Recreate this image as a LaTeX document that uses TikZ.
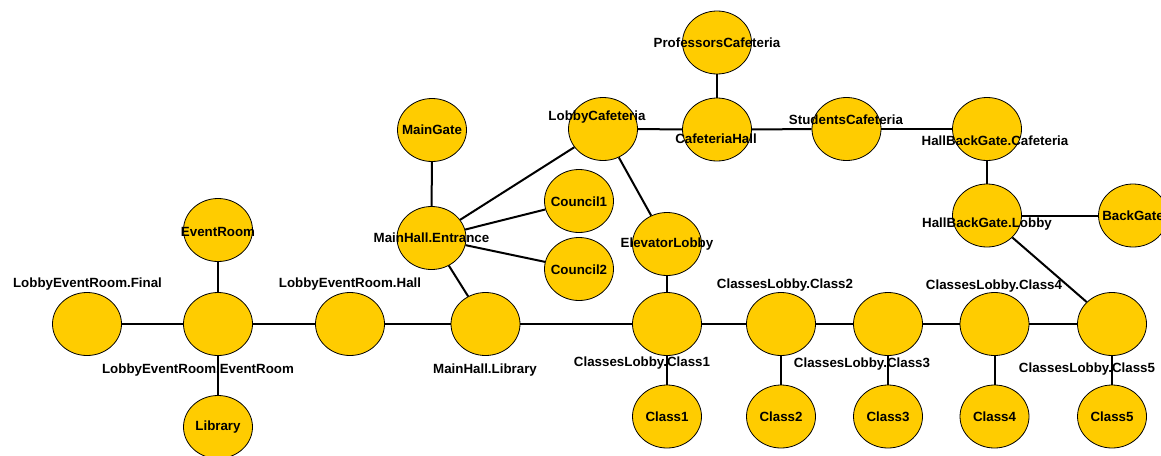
\documentclass[tikz,border=0pt]{standalone}
\usepackage{fontspec}
\setmainfont{Liberation Sans}
\usetikzlibrary{shapes.geometric}
\definecolor{gold}{HTML}{FFCC00}
\begin{document}
\begin{tikzpicture}[x=1pt,y=-1pt,
  st/.style={ellipse,draw=black,line width=0.8pt,fill=gold,minimum width=69pt,minimum height=63pt,inner sep=0pt},
  lbl/.style={font=\fontsize{13.33}{16}\selectfont\bfseries,inner sep=0pt,text=black},
  edge/.style={draw=black,line width=2pt}]
\useasboundingbox (0,0) rectangle (1161,455);
% states
\node[st] (final) at (87,324) {};
\node[st] (lerER) at (218,324) {};
\node[st] (eventroom) at (218,230) {};
\node[st] (library) at (218,427) {};
\node[st] (lerHall) at (350,324) {};
\node[st] (mhLib) at (485.5,324) {};
\node[st] (mhEnt) at (431.5,238) {};
\node[st] (mainGate) at (432,130) {};
\node[st] (lobbyCaf) at (603,129) {};
\node[st] (council1) at (579,201) {};
\node[st] (council2) at (579,269) {};
\node[st] (elevator) at (667,244) {};
\node[st] (profCaf) at (717,42.5) {};
\node[st] (cafHall) at (717,129.5) {};
\node[st] (studCaf) at (846.5,129) {};
\node[st] (hbgCaf) at (987,129) {};
\node[st] (hbgLobby) at (987,215.5) {};
\node[st] (backGate) at (1133,215.5) {};
\node[st] (cl1) at (667,324) {};
\node[st] (cl2) at (781,324) {};
\node[st] (cl3) at (888,324) {};
\node[st] (cl4) at (994.5,324) {};
\node[st] (cl5) at (1112,324) {};
\node[st] (c1) at (667,416.5) {};
\node[st] (c2) at (781,416.5) {};
\node[st] (c3) at (888,416.5) {};
\node[st] (c4) at (994.5,416.5) {};
\node[st] (c5) at (1112,416.5) {};
% edges
\path[edge] (final) -- (lerER);
\path[edge] (eventroom) -- (lerER);
\path[edge] (lerER) -- (library);
\path[edge] (lerER) -- (lerHall);
\path[edge] (lerHall) -- (mhLib);
\path[edge] (mhLib) -- (mhEnt);
\path[edge] (mhLib) -- (cl1);
\path[edge] (mhEnt) -- (mainGate);
\path[edge] (mhEnt) -- (lobbyCaf);
\path[edge] (mhEnt) -- (council1);
\path[edge] (mhEnt) -- (council2);
\path[edge] (lobbyCaf) -- (cafHall);
\path[edge] (lobbyCaf) -- (elevator);
\path[edge] (cafHall) -- (profCaf);
\path[edge] (cafHall) -- (studCaf);
\path[edge] (studCaf) -- (hbgCaf);
\path[edge] (hbgCaf) -- (hbgLobby);
\path[edge] (hbgLobby) -- (backGate);
\path[edge] (hbgLobby) -- (cl5);
\path[edge] (elevator) -- (cl1);
\path[edge] (cl1) -- (cl2);
\path[edge] (cl2) -- (cl3);
\path[edge] (cl3) -- (cl4);
\path[edge] (cl4) -- (cl5);
\path[edge] (cl1) -- (c1);
\path[edge] (cl2) -- (c2);
\path[edge] (cl3) -- (c3);
\path[edge] (cl4) -- (c4);
\path[edge] (cl5) -- (c5);
% labels
\node[lbl] (tfinal) at (87.5,284) {LobbyEventRoom.Final};
\node[lbl] (tlerER) at (198,370) {LobbyEventRoom.EventRoom};
\node[lbl] (teventroom) at (218,232) {EventRoom};
\node[lbl] (tlibrary) at (218,427) {Library};
\node[lbl] (tlerHall) at (350,284) {LobbyEventRoom.Hall};
\node[lbl] (tmhLib) at (485,370) {MainHall.Library};
\node[lbl] (tmhEnt) at (431.5,238) {MainHall.Entrance};
\node[lbl] (tmainGate) at (432,130) {MainGate};
\node[lbl] (tlobbyCaf) at (597,117) {LobbyCafeteria};
\node[lbl] (tcouncil1) at (579,202) {Council1};
\node[lbl] (tcouncil2) at (579,270) {Council2};
\node[lbl] (televator) at (667,244) {ElevatorLobby};
\node[lbl] (tprofCaf) at (717,43) {ProfessorsCafeteria};
\node[lbl] (tcafHall) at (716,139) {CafeteriaHall};
\node[lbl] (tstudCaf) at (846,120) {StudentsCafeteria};
\node[lbl] (thbgCaf) at (995,141) {HallBackGate.Cafeteria};
\node[lbl] (thbgLobby) at (987,224) {HallBackGate.Lobby};
\node[lbl] (tbackGate) at (1133,216) {BackGate};
\node[lbl] (tcl1) at (642,363) {ClassesLobby.Class1};
\node[lbl] (tcl2) at (785,285) {ClassesLobby.Class2};
\node[lbl] (tcl3) at (862,364) {ClassesLobby.Class3};
\node[lbl] (tcl4) at (994,286) {ClassesLobby.Class4};
\node[lbl] (tcl5) at (1087,369) {ClassesLobby.Class5};
\node[lbl] (tc1) at (667,417) {Class1};
\node[lbl] (tc2) at (781,417) {Class2};
\node[lbl] (tc3) at (888,417) {Class3};
\node[lbl] (tc4) at (994.5,417) {Class4};
\node[lbl] (tc5) at (1112,417) {Class5};
\end{tikzpicture}
\end{document}
